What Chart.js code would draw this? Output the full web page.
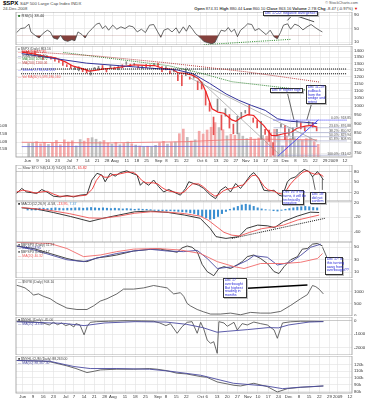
<!DOCTYPE html>
<html>
<head>
<meta charset="utf-8">
<script src="https://cdn.jsdelivr.net/npm/chart.js@4.4.1/dist/chart.umd.min.js"></script>
<style>
  body { margin: 0; width: 367px; height: 400px; background: #fff; position: relative; overflow: hidden;
         font-family: 'Liberation Sans', Arial, sans-serif; }
  .t { position: absolute; white-space: nowrap; }
  .c { position: absolute; background: #fff; border: 0.6px solid #333; color: #2b2bd8; font-size: 3.6px;
       line-height: 3.7px; padding: 0.3px 0.7px; white-space: nowrap; box-shadow: 1px 1px 0 #bbb; box-sizing: border-box; }
</style>
</head>
<body>
<div class="t" style="left:3px;top:0;font-size:6px;font-weight:bold;color:#000">$SPX <span style="font-weight:normal;font-size:4.3px;color:#444">S&amp;P 500 Large Cap Index INDX</span></div>
<div class="t" style="left:3px;top:6px;font-size:4.2px;color:#444">24-Dec-2008</div>
<div class="t" style="right:9px;top:1px;font-size:3.8px;color:#555">© StockCharts.com</div>
<div class="t" style="right:9px;top:5.6px;font-size:4.1px;color:#333"><b>Open</b> 874.31 <b>High</b> 880.44 <b>Low</b> 860.10 <b>Close</b> 863.16 <b>Volume</b> 2.7B <b>Chg</b> -8.47 (-0.97%) <span style="color:#d00">▼</span></div>

<script>
// trading-day index: 0 = Mon 2-Jun-2008, 5 per week
const X_MIN = -3.3, X_MAX = 161;
const tickDays = [0, 5, 10, 15, 21, 25, 30, 35, 40, 44, 50, 55, 60, 66, 70, 75, 80, 87, 90, 95, 100, 105,
  110, 115, 120, 125, 130, 135, 140, 145, 150, 154, 160];
const tickLabels = ['Jun', '9', '16', '23', 'Jul', '7', '14', '21', '28', 'Aug', '11', '18', '25', 'Sep', '8', '15', '22',
  'Oct', '6', '13', '20', '27', 'Nov', '10', '17', '24', 'Dec', '8', '15', '22', '29', '2009', '12'];

// daily bars, every 2nd session
const barDays = Array.from({ length: 74 }, (_, i) => i * 2);
const spxHigh = [1400, 1385, 1404, 1366, 1353, 1364, 1353, 1343, 1322, 1314, 1290, 1285, 1272, 1274, 1257, 1254, 1246, 1268, 1277,
  1283, 1260, 1284, 1270, 1284, 1289, 1313, 1294, 1301, 1280, 1279, 1292, 1289, 1301, 1303, 1275, 1275, 1243, 1255, 1214, 1211,
  1255, 1196, 1215, 1167, 1160, 1097, 1021, 936, 1045, 948, 985, 951, 896, 940, 963, 975, 1005, 931, 917, 912, 868, 864, 801,
  868, 896, 888, 871, 876, 918, 904, 880, 911, 905, 880];
const spxLow = [1373, 1370, 1359, 1351, 1331, 1352, 1333, 1317, 1308, 1283, 1274, 1261, 1252, 1242, 1236, 1226, 1210, 1255, 1248,
  1251, 1234, 1264, 1254, 1250, 1265, 1292, 1274, 1285, 1264, 1261, 1266, 1272, 1282, 1272, 1236, 1249, 1221, 1233, 1170, 1134,
  1206, 1180, 1187, 1107, 1111, 1007, 970, 840, 973, 865, 941, 875, 845, 845, 928, 959, 948, 906, 876, 818, 841, 806, 741,
  834, 880, 815, 837, 818, 883, 871, 860, 894, 880, 860];
const spxClose = [1377, 1377, 1360, 1358, 1339, 1360, 1337, 1318, 1314, 1283, 1280, 1261, 1262, 1273, 1253, 1228, 1245, 1260, 1277,
  1252, 1235, 1284, 1260, 1284, 1266, 1305, 1285, 1298, 1267, 1277, 1266, 1282, 1283, 1277, 1236, 1268, 1232, 1252, 1213, 1206,
  1207, 1185, 1213, 1166, 1114, 1056, 985, 899, 998, 946, 985, 896, 876, 941, 954, 967, 952, 930, 898, 911, 850, 806, 800,
  857, 896, 816, 870, 876, 888, 873, 869, 904, 888, 863];
const volumeB = [4.4, 4.6, 5.0, 4.3, 4.8, 4.1, 4.5, 5.4, 4.0, 5.6, 4.9,
  5.3, 3.6, 5.7, 5.2, 6.1, 6.3, 5.8, 5.0, 5.4, 4.6, 4.2, 4.8, 4.0, 4.4, 4.9, 4.3, 3.9, 3.6, 3.3, 3.5,
  3.2, 3.8, 4.6, 5.1, 4.2, 4.7, 4.9, 7.6, 9.1, 6.4,
  5.2, 5.6, 8.4, 7.5, 8.8, 9.7, 11.2, 9.6, 8.9, 6.9, 7.4, 7.1,
  7.8, 6.8, 6.0, 6.4, 5.8, 6.2, 7.0,
  6.8, 7.9, 9.0, 7.2, 3.6, 6.9,
  6.1, 6.3, 5.6, 5.4, 6.0, 6.2, 5.0, 4.1];
const macdHist = [3, 4, 4, 5, 5, 4, 5, 6, 5, 4, 5,
  5, 6, 6, 5, 6, 7, 6, 5, 6, 5, 4, 5, 4, 3, 4, 3, 2, 3, 2, 2,
  1, -1, -2, -2, -3, -2, -3, -4, -5, -6,
  -8, -10, -14, -18, -22, -26, -24, -18, -10, -4, 2, 6,
  10, 14, 16, 14, 10, 6, 3,
  1, 0, -2, -3, -1, 2,
  4, 6, 8, 9, 10, 9, 7, 6];

// RSI
const rsiDays = [-3, -1, 1, 3, 4, 6, 8, 10, 12, 13.5, 15, 17, 18.5, 20, 22, 24, 25.5, 27, 29, 30.5, 32, 34, 36, 37.5, 39, 40.5, 42,
  44, 46, 48, 50, 52, 54, 56, 58, 60, 62, 64, 66, 67.5, 69, 71, 73, 75, 76.5, 78.5, 80, 81.5, 83, 84.5, 86.5, 88.5, 90.5, 92.5,
  94, 95, 97, 99, 100.5, 102, 103.5, 105, 106.5, 108.5, 110, 112, 113.5, 115.5, 117, 119, 121, 123, 124.5, 126, 127.5, 129.5,
  131, 133, 135, 137, 139, 141, 143, 145, 146.5];
const rsiVals = [38, 50, 52, 63, 40, 30, 22, 36, 45, 40, 22, 18, 30, 16, 12, 17, 14, 40, 32, 22, 38, 50, 63, 66, 50, 58, 45,
  60, 48, 55, 50, 58, 55, 40, 48, 38, 60, 62, 40, 24, 45, 50, 40, 52, 36, 55, 42, 60, 48, 35, 25, 12, 8, 5,
  9, 22, 45, 42, 53, 40, 48, 26, 45, 55, 64, 62, 44, 50, 42, 32, 45, 25, 20, 38, 60, 64,
  48, 63, 58, 46, 55, 62, 53, 45, 40];

// price overlays
const emaDays = [-3, 3, 9, 14, 19, 23, 28, 31, 34, 39, 44, 49, 54, 59, 64, 68, 73, 76, 79, 83, 86, 88, 90, 93, 96, 99, 103, 105,
  108, 111, 114, 116, 119, 123, 125, 129, 133, 136, 140, 143, 146];
const emaVals = [1392, 1378, 1357, 1345, 1312, 1278, 1257, 1240, 1245, 1258, 1264, 1276, 1289, 1285, 1283, 1262, 1254, 1226, 1224,
  1210, 1185, 1150, 1090, 985, 965, 958, 920, 912, 935, 950, 945, 920, 890, 836, 835, 845, 853, 875, 885, 889, 880];
const ema50Days = [-3, 13.4, 29.6, 46.2, 62.4, 75.6, 83.5, 91.8, 100.1, 106.5, 112.9, 119.8, 126.1, 132.5, 139.3, 146];
const ema50Vals = [1380, 1340, 1302, 1282, 1262, 1248, 1220, 1150, 1078, 1037, 1005, 975, 926, 912, 907, 900];
const ma200Days = [-3, 35, 70, 110, 147];
const ma200Vals = [1400, 1360, 1305, 1235, 1160];
const greenDays = [18, 71, 87, 103, 132, 147];
const greenVals = [1390, 1282, 1226, 1162, 1116, 1095];
const levelLines = [1256, 1220];
const trend1Days = [79.6, 127], trend1Vals = [1272, 744];
const trend2Days = [82, 146], trend2Vals = [1189, 807];
const riseDays = [126.2, 146.6], riseVals = [737, 920];
const fibStart = 124;
const fibLevels = [918.85, 876.88, 850.92, 829.94, 808.95, 741.02];
const fibLabels = ['0.0%: 918.85', '23.6%: 876.88', '38.2%: 850.92', '50.0%: 829.94', '61.8%: 808.95', '100.0%: 741.02'];
const volMaDays = [-3, 40, 80, 100, 120, 146], volMaVals = [4.8, 4.6, 5.0, 5.6, 5.8, 5.6];
const volMa2Days = [-3, 146], volMa2Vals = [3.4, 3.5];
const priceTicks = [750, 800, 850, 900, 950, 1000, 1050, 1100, 1150, 1200, 1250, 1300, 1350, 1400];

// slow stochastics
const stoKDays = [-3, -0.5, 1.9, 4.4, 6.9, 9.3, 11.8, 15, 18.3, 21.6, 24.8, 28.1, 31.4, 33.8, 36.3, 38.7, 40.3, 42.8, 45.2, 47.7,
  50.9, 53.4, 55.9, 57.5, 59.1, 61.6, 64, 66.5, 68.9, 71.4, 73.8, 77.1, 79.6, 81.2, 83.6, 86.1, 88.5, 91.8, 94.3, 96.7,
  99.2, 101.6, 104.1, 106.5, 109, 111.4, 113, 115.5, 117.9, 120.4, 122.9, 125.3, 127, 129.4, 131, 133.5, 135.1, 137.6, 140,
  141.7, 144.1, 145.8, 147];
const stoKVals = [18, 32, 22, 20, 18, 29, 22, 10, 8, 12, 8, 13, 15, 56, 75, 70, 51, 75, 67, 77,
  82, 75, 70, 41, 51, 41, 56, 37, 22, 29, 22, 13, 32, 51, 46, 41, 32, 13, 3, 27,
  37, 22, 46, 32, 51, 70, 77, 60, 27, 25, 27, 13, 10, 51, 60, 65, 75, 86, 80,
  65, 80, 67, 56];
const stoDDays = [-3, 0, 3, 6, 9, 12, 15, 18, 22, 25, 28, 31, 34, 36, 38, 40, 42, 44, 46, 48, 51, 54, 56, 58, 60, 62, 64, 66, 68,
  70, 72, 74, 77, 79, 81, 83, 86, 88, 90, 92, 94, 96, 98, 100, 102, 104, 106, 108, 110, 112, 114, 116, 118, 120, 123, 125,
  127, 129, 131, 133, 135, 137, 139, 141, 143, 145, 147];
const stoDVals = [22, 27, 24, 19, 22, 24, 16, 10, 10, 10, 11, 13, 30, 55, 70, 64, 64, 71, 72, 74, 78, 78, 70, 56, 48, 48, 48, 45, 35,
  28, 24, 22, 18, 22, 35, 45, 45, 38, 28, 18, 10, 15, 25, 30, 32, 35, 40, 42, 55, 68, 70, 55, 38, 28, 24, 18,
  16, 28, 45, 58, 68, 78, 82, 76, 72, 74, 66];

// MACD
const macdDays = [-3, 5, 13, 21.6, 31.4, 38, 46, 54, 62, 71, 79, 87, 92, 95, 100, 106.5, 110.5, 116, 121, 124.5, 129, 136, 142.5, 147];
const macdVals = [6, 2, -7, -18, -32, -23, -14, -5, -3, -7, -14, -23, -51, -74, -79, -74, -51, -42, -44, -49, -32, -17, -6, -7];
const signalDays = [-3, 10, 21, 31, 38, 46, 54, 62, 71, 79, 87, 91, 95, 99, 103, 107, 112, 118, 124, 129, 136, 147];
const signalVals = [7, 0, -10, -22, -23, -17, -9, -5, -6, -10, -17, -28, -45, -62, -70, -72, -62, -52, -47, -42, -28, -14];
const macdTrendDays = [103, 150], macdTrendVals = [-79, -23];

// $BPSPX
const bpDays = [-3, 5.2, 13.4, 21.6, 26.5, 31.4, 36.3, 41.2, 46, 54.2, 62.4, 67.3, 70.6, 75.5, 77.9, 80.4, 82.8, 85.3, 87.7, 90.2,
  93.4, 95.9, 98.4, 101.6, 104.9, 107.3, 109.8, 113, 116.3, 119.6, 122.9, 125.3, 127.8, 131, 134.3, 136.7, 139.2, 141.7, 144.1, 146.6];
const bpVals = [52, 48, 40, 32, 28.5, 27, 33, 35, 37.6, 44, 46.7, 47, 45, 42, 49, 52, 50, 43, 22.7, 11,
  4.5, 16, 19, 16, 22, 27, 35, 37.6, 32, 24, 11, 8, 19, 30, 35, 47, 48, 55, 56, 52];
const bpMa5Days = [-3, 5.2, 13.4, 21.6, 29.7, 37.9, 46, 54.2, 62.4, 70.6, 78.7, 85.3, 90.2, 95.1, 103.3, 109.8, 113, 119.6, 124.5,
  131, 135.9, 140.8, 145.8];
const bpMa5Vals = [52, 46, 38, 30, 27, 34, 40, 44, 46.7, 44, 43, 45, 32, 16, 19, 29, 36.5, 34, 21.6, 26, 37, 50, 55];
const bpMa20Days = [-3, 13.4, 21.6, 29.7, 37.9, 46, 54.2, 65.7, 77.1, 86.9, 95.1, 103.3, 108.2, 116.3, 127.8, 135.9, 144.1, 146.6];
const bpMa20Vals = [58, 56, 48, 35, 37.6, 43, 47, 48, 45.6, 40, 27, 19, 16, 24, 24, 26, 32, 40];

// $NYSI
const sumDays = [-3, -1.3, 1.1, 3.6, 5.2, 7.7, 10.1, 13.4, 16.6, 21.6, 26.5, 31.4, 34.6, 37.9, 41.2, 46, 49.3, 54.2, 59.1, 64,
  67.3, 70.6, 73.8, 77.1, 78.7, 80.4, 82, 85.3, 88.5, 91.8, 96.7, 101.6, 106.5, 111.4, 116.3, 121.2, 126.1, 131, 135.9, 139.2,
  141.7, 143.3, 144.9, 147];
const sumVals = [1260, 1220, 1150, 990, 850, 900, 800, 700, 520, 310, 250, 250, 400, 600, 700, 900, 1100, 1100, 1150, 1250,
  1200, 1150, 900, 950, 800, 500, 400, 250, 150, 60, 60, 100, 30, 130, 100, 100, 170, 420, 700, 870,
  1250, 1200, 1100, 900];

// $NYHL
const hlDays = [-3, 5, 10, 13, 15, 17, 19, 21, 23, 25, 26, 28, 30, 31.5, 33, 36, 42, 50, 58, 64, 67, 70, 72.2, 75.5, 77.9,
  80.4, 82.8, 85.3, 87, 88.5, 90.2, 91.8, 93.4, 95.1, 95.9, 98.4, 100, 103.3, 104.9, 107.3, 109.8, 113, 116.3, 119.6, 122.9,
  124.5, 127, 131, 135.9, 142.5, 147];
const hlVals = [-40, -60, -150, -300, -100, -280, -150, -350, -250, -450, -200, -300, -1050, -400, -100, -50, -20, 20, 0, -20,
  -150, -350, -200, -930, -430, -100, -50, -930, -100, -600, -1440, -1690, -1570, -2450, -50, -150, -400, -100, -680, -200,
  -300, -80, -200, -300, -680, -1310, -150, -60, -20, -30, -45];
const hlMaDays = [-3, 20, 30, 40, 55, 70, 80, 88, 95, 100, 110, 120, 125, 130, 140, 147];
const hlMaVals = [-60, -180, -350, -150, -50, -80, -250, -500, -850, -780, -650, -500, -520, -300, -80, -45];

// cumulative line (thousands)
const cumDays = [-3, 10, 13.4, 21.6, 26, 31.4, 35, 38, 46, 54.2, 62, 65.7, 70, 75.5, 80, 87, 90, 95.1, 100, 103.3, 106.5, 113,
  119.6, 124.5, 129.4, 135.9, 142, 147];
const cumVals = [126, 125, 124, 118, 114, 108, 110, 112, 113, 113, 114, 113, 111, 107, 106, 102, 101, 94, 91, 89, 88, 92,
  87, 79, 84, 86, 87, 88];
const cumMaDays = [-3, 13, 25, 33, 46, 62, 72, 87, 103, 119, 127, 135, 147];
const cumMaVals = [126, 125, 117, 114, 114, 113, 110, 104, 92, 88, 84, 86, 88];

const FONT = "'Liberation Sans', Arial, sans-serif";
Chart.defaults.font.family = FONT;
Chart.defaults.font.size = 4.5;
Chart.defaults.color = '#333';

function pts(days, vals) { return days.map((d, i) => ({ x: d, y: vals[i] })); }
function line(days, vals, color, width, dash, extra) {
  return Object.assign({ type: 'line', data: pts(days, vals), borderColor: color, borderWidth: width || 0.9,
    borderDash: dash || [], pointRadius: 0, fill: false, tension: 0, order: 1 }, extra || {});
}

const legends = {};
const panelPlugin = {
  id: 'panel',
  afterDraw(chart) {
    const { ctx, chartArea: a } = chart;
    ctx.save();
    ctx.strokeStyle = '#999'; ctx.lineWidth = 0.8;
    ctx.strokeRect(a.left, a.top, a.right - a.left, a.bottom - a.top);
    const lg = legends[chart.canvas.id];
    if (lg) {
      ctx.font = lg.size + 'px ' + FONT;
      ctx.textBaseline = 'alphabetic';
      lg.rows.forEach((row, i) => {
        let x = a.left + 2;
        const y = a.top + lg.lh * (i + 1);
        row.forEach(([txt, col]) => { ctx.fillStyle = col; ctx.fillText(txt, x, y); x += ctx.measureText(txt).width; });
      });
    }
    if (chart.canvas.id === 'price') {
      const ys = chart.scales.y;
      ctx.font = '3.4px ' + FONT; ctx.fillStyle = '#555'; ctx.textAlign = 'right';
      fibLevels.forEach((v, i) => ctx.fillText(fibLabels[i], a.right - 1, ys.getPixelForValue(v) - 0.6));
    }
    ctx.restore();
  }
};

function panel(id, top, height, datasets, y, opt) {
  opt = opt || {};
  const cv = document.createElement('canvas');
  cv.id = id; cv.width = 367; cv.height = height;
  cv.style.cssText = 'position:absolute;left:0;top:' + top + 'px;width:367px;height:' + height + 'px';
  document.body.appendChild(cv);
  const zeroPad = s => { s.paddingTop = 0; s.paddingBottom = 0; s.paddingLeft = 0; s.paddingRight = 0; };
  const scales = {
    x: {
      type: 'linear', min: X_MIN, max: X_MAX,
      afterBuildTicks: s => { s.ticks = tickDays.map(v => ({ value: v })); },
      grid: { color: '#e0e0e0', lineWidth: 0.6, drawTicks: false },
      border: { display: false },
      ticks: { display: !!opt.dates, autoSkip: false, maxRotation: 0, padding: 1.2, font: { size: 4.3 }, color: '#333',
        callback: (v, i) => tickLabels[i] },
      afterFit: s => { s.height = opt.dates ? 7 : 0; zeroPad(s); }
    },
    y: {
      type: y.type || 'linear', position: 'right', min: y.min, max: y.max,
      afterBuildTicks: s => { s.ticks = y.ticks.map(v => ({ value: v })); },
      grid: { color: c => (y.strong && y.strong.includes(c.tick.value)) ? '#a8a8a8' : '#e0e0e0', lineWidth: 0.6, drawTicks: false },
      border: { display: false },
      ticks: { padding: 2, font: { size: 4.4 }, color: '#333', callback: y.fmt || (v => v) },
      afterFit: s => { s.width = 15; zeroPad(s); }
    }
  };
  if (opt.left) {
    scales.yv = {
      type: 'linear', position: 'left', min: opt.left.min, max: opt.left.max,
      afterBuildTicks: s => { s.ticks = opt.left.ticks.map(v => ({ value: v })); },
      grid: { display: false }, border: { display: false },
      ticks: { padding: 1, font: { size: 3.8 }, color: '#333', callback: opt.left.fmt },
      afterFit: s => { s.width = 16; zeroPad(s); }
    };
  }
  return new Chart(cv, {
    type: 'line',
    data: { datasets },
    options: {
      responsive: false, animation: false, events: [],
      layout: { padding: { left: opt.left ? 0 : 16, right: 0, top: 0, bottom: 0 } },
      plugins: { legend: { display: false }, tooltip: { enabled: false } },
      elements: { point: { radius: 0 }, line: { tension: 0 } },
      scales
    },
    plugins: [panelPlugin]
  });
}

// ---- RSI ----
legends.rsi = { size: 4, lh: 4.6, rows: [[['■ ', '#2f7a2f'], ['RSI(5) 38.40', '#333']]] };
panel('rsi', 12, 33, [
  line(rsiDays, rsiVals, '#444', 0.8, [], { fill: { target: { value: 30 }, above: 'rgba(0,0,0,0)', below: '#84403c' } }),
  line([88.5, 131], [2, 18], '#2a8a2a', 1, [1, 1.2]),
  line([131.9, 129.4], [90, 74], '#000', 0.7),
  line([132.6, 142.5], [90, 70], '#000', 0.7)
], { min: 1.2, max: 99, ticks: [10, 30, 50, 70, 90], strong: [30, 70] });

// ---- price + volume ----
legends.price = { size: 3.3, lh: 3.55, rows: [
  [['■ ', '#999'], ['$SPX (Daily) 863.16', '#444']],
  [['— ', '#e22'], ['EMA(10) 877.85', '#e22']],
  [['— ', '#33339a'], ['EMA(50) 901.40', '#555']],
  [['··· ', '#3a8a3a'], ['MA(100) 1094.72', '#3a8a3a']],
  [['··· ', '#b44'], ['MA(200) 1160.06', '#b44']],
  [['', '#000']],
  [['— ', '#55f'], ['Volume 2,785,512,192', '#55f']],
  [['', '#000']],
  [['— ', '#e55'], ['Vol MA(50) 5,593,180,160', '#e55']]
] };
const priceSets = [
  { type: 'bar', yAxisID: 'yv', order: 10, data: pts(barDays, volumeB), barThickness: 2,
    backgroundColor: spxClose.map((c, i) => (i && c < spxClose[i - 1]) ? 'rgba(240,140,140,0.75)' : 'rgba(175,175,175,0.8)') },
  line(volMaDays, volMaVals, '#f07070', 0.8, [], { yAxisID: 'yv', order: 9 }),
  line(volMa2Days, volMa2Vals, '#6a6ad8', 0.8, [], { yAxisID: 'yv', order: 9 }),
  { type: 'bar', yAxisID: 'y', order: 5, data: barDays.map((d, i) => ({ x: d, y: [spxLow[i], spxHigh[i]] })), barThickness: 1,
    backgroundColor: spxClose.map((c, i) => (i && c < spxClose[i - 1]) ? '#e65050' : '#8a8a8a') },
  line(ma200Days, ma200Vals, '#b84444', 1, [1, 1]),
  line(greenDays, greenVals, '#3a8a3a', 1, [1, 1]),
  ...levelLines.map(v => line([X_MIN, X_MAX], [v, v], '#000', 1, [1, 1])),
  line(trend1Days, trend1Vals, '#8c8c8c', 0.6),
  line(trend2Days, trend2Vals, '#8c8c8c', 0.6),
  ...fibLevels.map((v, i) => line([fibStart, X_MAX], [v, v], i ? '#9aa0c8' : '#5555ff', i ? 0.6 : 1.1, i ? [] : [1, 1])),
  line(riseDays, riseVals, '#3a3af0', 0.9),
  line(ema50Days, ema50Vals, '#33339a', 1),
  line(emaDays, emaVals, '#ee2222', 1.2),
  line([131, 134.3], [1085, 920], '#000', 0.6),
  line([143.3, 140.8], [1020, 920], '#000', 0.6)
];
panel('price', 46, 118, priceSets,
  { type: 'logarithmic', min: 733, max: 1446, ticks: priceTicks },
  { dates: true, left: { min: 0, max: 36.2, ticks: [2.5, 5, 7.5, 10], fmt: v => v.toFixed(1) + 'B' } });

// ---- slow stochastics ----
legends.sto = { size: 3.6, lh: 4.3, rows: [[['— ', '#333'], ['Slow STO %K(14,3) %D(3) 55.71, ', '#444'], ['65.82', '#e33']]] };
panel('sto', 165, 36, [
  line(stoDDays, stoDVals, '#ee3333', 0.9),
  line(stoKDays, stoKVals, '#222', 0.9),
  line([143, 141.7], [28, 66], '#000', 0.6),
  line([146.5, 146.5], [28, 58], '#000', 0.6)
], { min: -3.6, max: 98.6, ticks: [20, 50, 80], strong: [20, 80] });

// ---- MACD ----
legends.macd = { size: 3.6, lh: 4.3, rows: [[['■ ', '#333'], ['MACD(12,26,9) -6.58, ', '#444'], ['-13.95, ', '#e33'], ['7.37', '#3b8fd1']]] };
panel('macd', 201, 41, [
  { type: 'bar', order: 10, data: pts(barDays, macdHist), barThickness: 1.4, backgroundColor: '#3b8fd1' },
  line(signalDays, signalVals, '#ee5555', 0.9),
  line(macdDays, macdVals, '#222', 0.9),
  line(macdTrendDays, macdTrendVals, '#000', 0.9, [1, 1])
], { min: -88.9, max: 25, ticks: [20, 0, -20, -40, -60, -80], strong: [0] });

// ---- $BPSPX ----
legends.bp = { size: 3.4, lh: 3.7, rows: [
  [['■ ', '#666'], ['$BPSPX (Daily) 51.97', '#444']],
  [['— ', '#33339a'], ['MA(5) 53.95', '#33339a']],
  [['■ ', '#666'], ['$BPSPX (Daily) 17', '#444']],
  [['— ', '#f05a5a'], ['MA(20) 40.32', '#f05a5a']]
] };
panel('bp', 242, 36, [
  line(bpMa20Days, bpMa20Vals, '#f06a6a', 0.9),
  line(bpMa5Days, bpMa5Vals, '#4a4aa0', 0.9),
  line(bpDays, bpVals, '#333', 0.9),
  line([146.6, 148.7], [50, 34], '#000', 0.6)
], { min: 0.8, max: 58.4, ticks: [10, 20, 30, 40, 50] });

// ---- $NYSI ----
legends.sum = { size: 3.4, lh: 4, rows: [[['— ', '#444'], ['$NYSI (Daily) 903.10', '#444']]] };
panel('sum', 279, 37, [
  line(sumDays, sumVals, '#444', 0.8),
  line([109.8, 139.2], [1133, 1271], '#000', 1.6)
], { min: -21, max: 1521, ticks: [0, 250, 500, 750, 1000, 1250] });

// ---- $NYHL ----
legends.hl = { size: 3.4, lh: 3.8, rows: [
  [['■ ', '#444'], ['$NYHL (Daily) -45.00', '#444']],
  [['— ', '#4a4aa0'], ['MA(20) -43.41', '#4a4aa0']]
] };
panel('hl', 317, 38, [
  line(hlMaDays, hlMaVals, '#4a4aa0', 0.9),
  line(hlDays, hlVals, '#444', 0.8)
], { min: -2576, max: 303, ticks: [0, -500, -1000, -1500, -2000, -2500], strong: [0] });

// ---- cumulative ----
legends.cum = { size: 3.4, lh: 3.8, rows: [
  [['■ ', '#444'], ['$NYHL:CUM (Daily) 88,263.00', '#444']],
  [['— ', '#4a4aa0'], ['MA(50) 88,367.30', '#4a4aa0']]
] };
panel('cum', 356, 44, [
  line(cumMaDays, cumMaVals, '#4a4aa0', 0.9),
  line(cumDays, cumVals, '#444', 0.8)
], { min: 77.5, max: 132.7, ticks: [80, 90, 100, 110, 120], fmt: v => v + 'k' }, { dates: true });
</script>

<div class="c" style="left:263px;top:11px;width:55px;height:4.6px">Dec 17-22: negative divergence?</div>
<div class="c" style="left:270px;top:88px;width:33px;height:4.8px">Dec 8: higher high</div>
<div class="c" style="left:306px;top:85px;width:19.5px;height:18.5px">Dec 11-19:<br>pullback<br>from the<br>wedge and<br>retest</div>
<div class="c" style="left:281.5px;top:190px;width:22px;height:15px">Dec 16: if this<br>turns, it will be<br>technically<br>negative</div>
<div class="c" style="left:310px;top:191.5px;width:16px;height:12px">Dec 18:<br>did not<br>confirm</div>
<div class="c" style="left:325px;top:257px;width:18px;height:18px">Dec 17: is<br>this turning<br>away from<br>overbought??</div>
<div class="c" style="left:223px;top:278px;width:24px;height:20px">Dec 17<br>overbought<br>But highest<br>reading in<br>months</div>
</body>
</html>
